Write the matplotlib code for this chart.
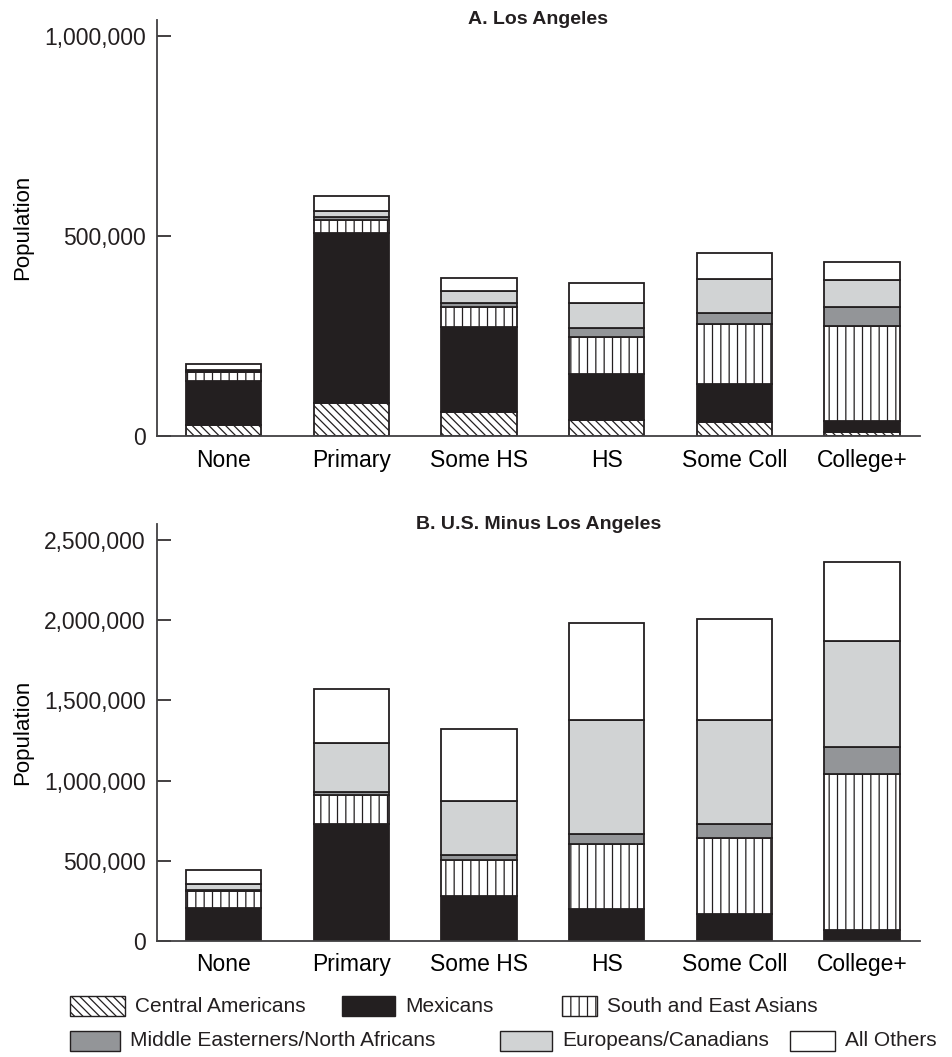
import matplotlib.pyplot as plt
import numpy as np
from matplotlib.patches import Rectangle
from matplotlib.ticker import FuncFormatter

plt.rcParams['font.family'] = ['Liberation Sans', 'DejaVu Sans']
plt.rcParams['hatch.linewidth'] = 0.9

# education levels along the x axis
levels = ['None', 'Primary', 'Some HS', 'HS', 'Some Coll', 'College+']

groups = ['Central Americans', 'Mexicans', 'South and East Asians',
          'Middle Easterners/North Africans', 'Europeans/Canadians', 'All Others']

# A. Los Angeles (population per group, stacked bottom to top)
la_central = [27500, 83000, 61000, 39000, 35000, 10000]
la_mexican = [110000, 425000, 210000, 115000, 94000, 27000]
la_asian = [23000, 32000, 50000, 93000, 150000, 238000]
la_mideast = [2500, 8000, 11000, 23000, 28000, 48000]
la_europe = [3000, 13000, 31000, 62000, 85000, 66000]
la_other = [14000, 39000, 32000, 51000, 66000, 45000]

# B. U.S. minus Los Angeles
us_central = [0, 0, 0, 0, 0, 0]
us_mexican = [202000, 731000, 281000, 198000, 164000, 69000]
us_asian = [110000, 179000, 223000, 406000, 478000, 973000]
us_mideast = [6000, 17000, 29000, 65000, 85000, 170000]
us_europe = [36000, 306000, 340000, 712000, 654000, 661000]
us_other = [88000, 340000, 446000, 602000, 625000, 494000]

# fill colour and hatch for each group
styles = [('white', '\\\\\\\\'), ('#231f20', ''), ('white', '||'),
          ('#939598', ''), ('#d1d3d4', ''), ('white', '')]
edge = '#231f20'
FS = 16.5

fig = plt.figure(figsize=(9.52, 10.57), dpi=100)
axA = fig.add_axes([0.165, 0.5875, 0.801, 0.394])
axB = fig.add_axes([0.165, 0.110, 0.801, 0.394])


def draw_panel(ax, series, ymax, ticks, title):
    x = np.arange(len(levels))
    bottom = np.zeros(len(levels))
    for vals, (fc, hatch) in zip(series, styles):
        vals = np.array(vals, dtype=float)
        ax.bar(x, vals, width=0.59, bottom=bottom, color=fc, edgecolor=edge,
               hatch=hatch, linewidth=1.3)
        bottom += vals
    ax.set_xlim(-0.52, 5.45)
    ax.set_ylim(0, ymax)
    ax.set_xticks(x)
    ax.set_xticklabels(levels, fontsize=FS)
    ax.set_yticks(ticks)
    ax.yaxis.set_major_formatter(FuncFormatter(lambda v, p: f'{int(v):,}'))
    ax.tick_params(axis='y', direction='in', length=10, width=1.2, labelsize=FS,
                   pad=8, colors='#231f20')
    ax.tick_params(axis='x', length=0, pad=9, labelsize=FS)
    for s in ['top', 'right']:
        ax.spines[s].set_visible(False)
    for s in ['left', 'bottom']:
        ax.spines[s].set_linewidth(1.3)
        ax.spines[s].set_color('#414042')
    ax.set_ylabel('Population', fontsize=16)
    ax.text(0.5, 1.0, title, transform=ax.transAxes, ha='center', va='center',
            fontsize=14, fontweight='bold', color='#231f20')


draw_panel(axA, [la_central, la_mexican, la_asian, la_mideast, la_europe, la_other],
           1040000, [0, 500000, 1000000], 'A. Los Angeles')
draw_panel(axB, [us_central, us_mexican, us_asian, us_mideast, us_europe, us_other],
           2600000, [0, 500000, 1000000, 1500000, 2000000, 2500000],
           'B. U.S. Minus Los Angeles')
axA.yaxis.set_label_coords(-0.163, 0.5)
axB.yaxis.set_label_coords(-0.163, 0.5)

# legend drawn by hand, two rows
W, H = 952.0, 1057.0
legend_items = [
    (0, 70, 1006, 55), (1, 342, 1006, 53), (2, 562, 1006, 35),
    (3, 70, 1041, 50), (4, 500, 1041, 52), (5, 790, 1041, 45),
]
for gi, px, py, pw in legend_items:
    fc, hatch = styles[gi]
    fig.patches.append(Rectangle((px / W, 1 - (py + 10) / H), pw / W, 20 / H,
                                 transform=fig.transFigure, facecolor=fc,
                                 edgecolor=edge, hatch=hatch, linewidth=1.0))
    fig.text((px + pw + 10) / W, 1 - py / H, groups[gi], fontsize=15,
             va='center', ha='left', color='#231f20')

fig.savefig('out.png', dpi=100)
